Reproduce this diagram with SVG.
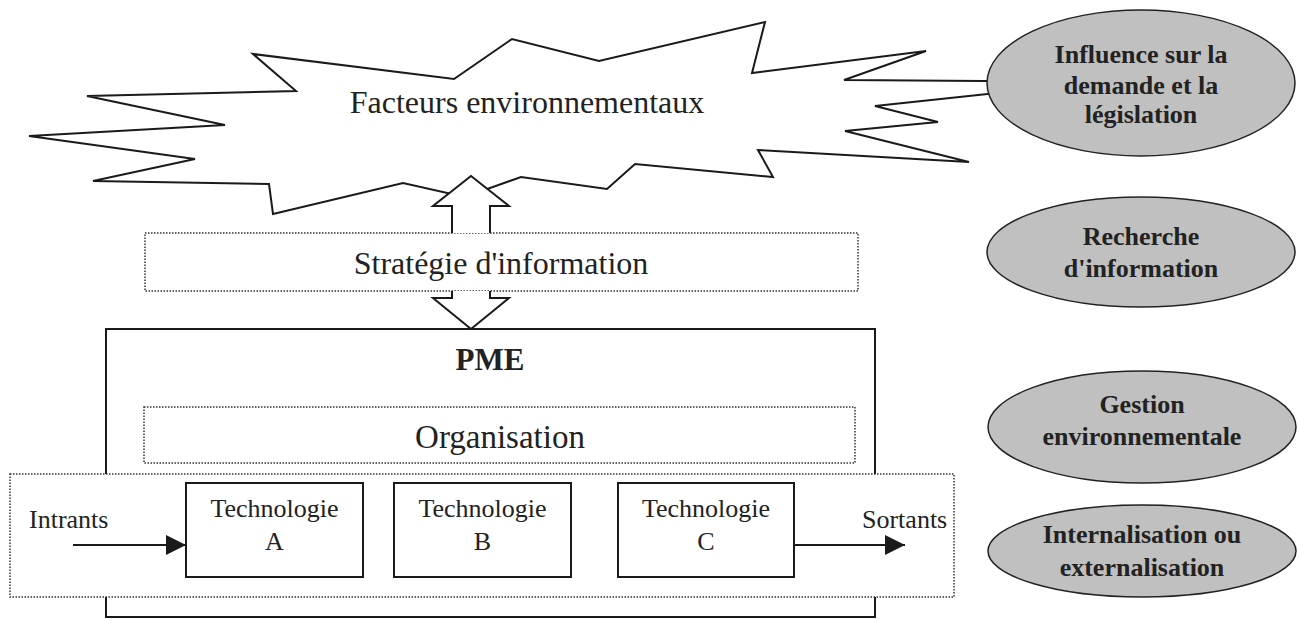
<svg xmlns="http://www.w3.org/2000/svg" width="1300" height="619" viewBox="0 0 1300 619">
<style>
text{font-family:"Liberation Serif","Tinos","Times New Roman","DejaVu Serif",serif}
.serif{fill:#222}
.solid{fill:#fff;stroke:#1a1a1a;stroke-width:2}
.dot{fill:#fff;stroke:#333;stroke-width:1.5;stroke-dasharray:1.5 1.5}
.oval{fill:#c0c0c0;stroke:#222;stroke-width:1.5}
.ot{font-weight:bold;font-size:26px;fill:#222;text-anchor:middle}
.line{stroke:#1a1a1a;stroke-width:2;fill:none}
</style>
<defs>
<marker id="ah" viewBox="0 0 20 20" refX="20" refY="10" markerWidth="20" markerHeight="20" markerUnits="userSpaceOnUse" orient="auto">
<path d="M0,0 L20,10 L0,20 Z" fill="#1a1a1a"/>
</marker>
</defs>
<g id="facteurs">
<polygon class="solid" points="29,136 225,125 87,96 296,91 253,54 454,79 512,39 599,61 765,22 752,73 926,51 844,80 1100,82 875,106 938,122 845,131 969,162 758,150 773,177 635,164 607,189 521,177 465,197 403,183 273,214 269,184 93,181 195,159"/>
<text class="serif" x="527" y="113" font-size="32" text-anchor="middle">Facteurs environnementaux</text>
</g>
<g id="strategie">
<rect class="dot" x="145" y="233" width="713" height="58"/>
<text class="serif" x="501" y="274" font-size="32" text-anchor="middle">Stratégie d'information</text>
</g>
<g id="pme">
<rect class="solid" x="106" y="329" width="769" height="288"/>
<text class="serif" x="490" y="370" font-size="31" font-weight="bold" text-anchor="middle">PME</text>
</g>
<g id="organisation">
<rect class="dot" x="144" y="407" width="711" height="56"/>
<text class="serif" x="500" y="448" font-size="33" text-anchor="middle">Organisation</text>
</g>
<g id="technologies">
<rect class="dot" x="10" y="474" width="944" height="123"/>
<text class="serif" x="29" y="528" font-size="26">Intrants</text>
<text class="serif" x="862" y="528" font-size="26">Sortants</text>
</g>
<g id="techA">
<rect class="solid" x="186" y="483" width="177" height="94"/>
<text class="serif" x="274.5" y="517" font-size="26" text-anchor="middle">Technologie</text>
<text class="serif" x="274.5" y="550" font-size="26" text-anchor="middle">A</text>
</g>
<g id="techB">
<rect class="solid" x="394" y="483" width="177" height="94"/>
<text class="serif" x="482.5" y="517" font-size="26" text-anchor="middle">Technologie</text>
<text class="serif" x="482.5" y="550" font-size="26" text-anchor="middle">B</text>
</g>
<g id="techC">
<rect class="solid" x="618" y="483" width="176" height="94"/>
<text class="serif" x="706" y="517" font-size="26" text-anchor="middle">Technologie</text>
<text class="serif" x="706" y="550" font-size="26" text-anchor="middle">C</text>
</g>
<g id="influence">
<ellipse class="oval" cx="1141" cy="83" rx="154" ry="73"/>
<text class="ot" x="1141" y="63">Influence sur la</text>
<text class="ot" x="1141" y="94">demande et la</text>
<text class="ot" x="1141" y="123">législation</text>
</g>
<g id="recherche">
<ellipse class="oval" cx="1141" cy="252" rx="154" ry="55"/>
<text class="ot" x="1141" y="245">Recherche</text>
<text class="ot" x="1141" y="277">d'information</text>
</g>
<g id="gestion">
<ellipse class="oval" cx="1142" cy="427" rx="154" ry="56"/>
<text class="ot" x="1142" y="413">Gestion</text>
<text class="ot" x="1142" y="445">environnementale</text>
</g>
<g id="internalisation">
<ellipse class="oval" cx="1142" cy="551" rx="154" ry="46"/>
<text class="ot" x="1142" y="543">Internalisation ou</text>
<text class="ot" x="1142" y="576">externalisation</text>
</g>
<g id="connectors">
<path class="solid" d="M452,233 L452,206 L433,206 L471,176 L509,206 L490,206 L490,233"/>
<path class="solid" d="M452,291 L452,298 L433,298 L471,329 L509,298 L490,298 L490,291"/>
<line class="line" x1="73" y1="545" x2="186" y2="545" marker-end="url(#ah)"/>
<line class="line" x1="794" y1="545" x2="905" y2="545" marker-end="url(#ah)"/>
</g>
</svg>
